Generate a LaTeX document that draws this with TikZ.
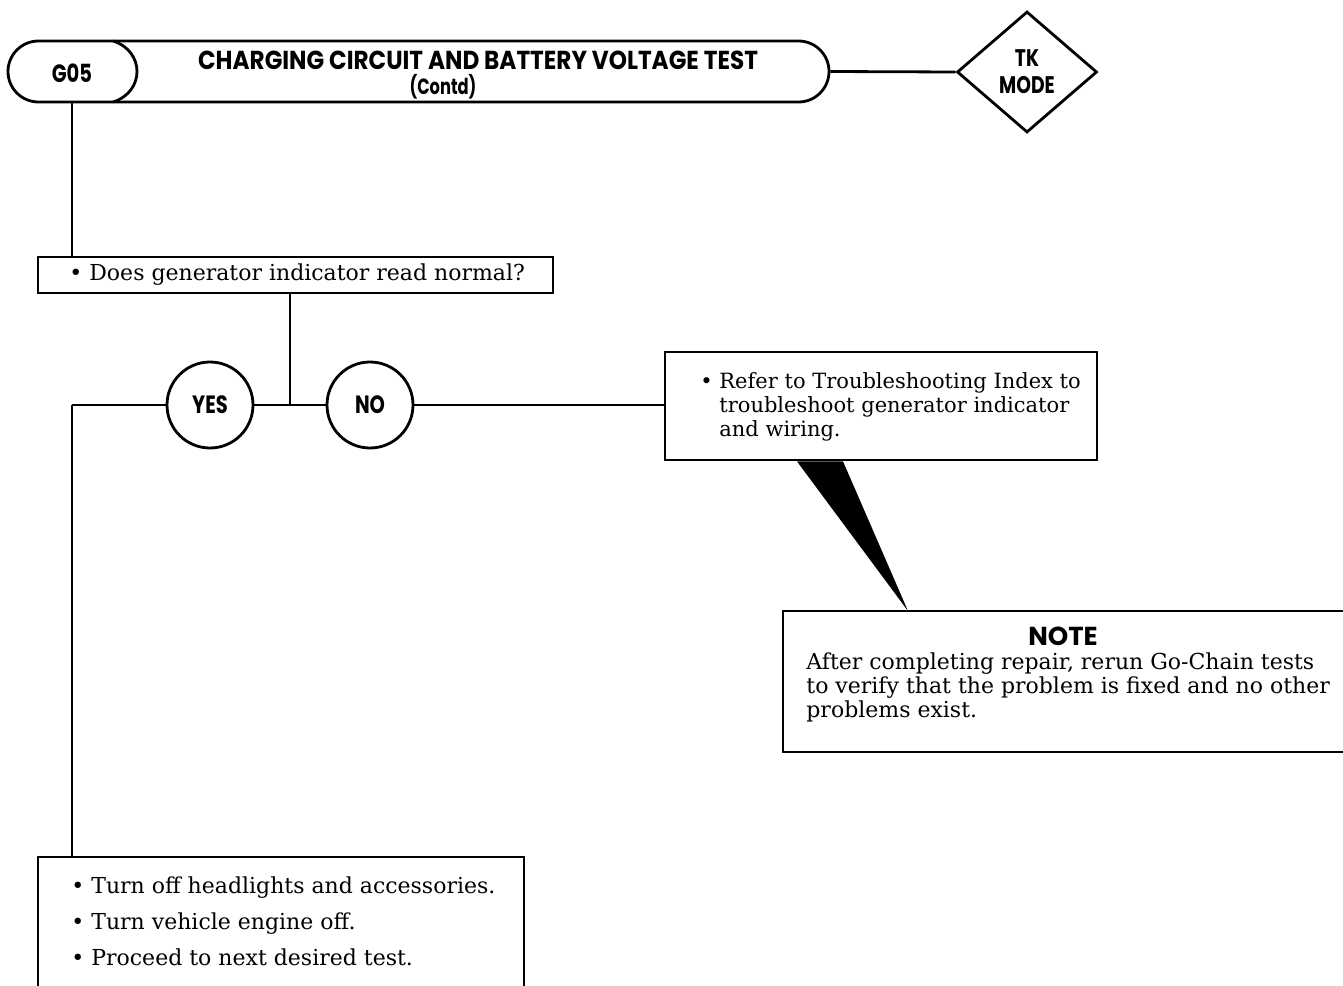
\documentclass[tikz,border=0pt]{standalone}
\usepackage{fontspec}
\usepackage{graphicx}
\setmainfont{DejaVu Serif}
\newfontfamily\headfont{Poppins}
\usetikzlibrary{shapes.geometric,shapes.misc,positioning}
\newcommand{\hd}[2][0.78]{\scalebox{#1}[1]{\headfont\bfseries #2}}

\begin{document}
\begin{tikzpicture}[x=1pt,y=-1pt,line width=2.8pt,
   box/.style={draw,rectangle,inner sep=0pt},
   txt/.style={anchor=north west,align=left,inner sep=0pt,font=\fontsize{22}{24}\selectfont},
   answer/.style={draw,circle,minimum size=86pt,inner sep=0pt,font=\fontsize{25}{25}\selectfont}]

   \useasboundingbox (0,0) rectangle (1343,985);

   % header
   \node[draw,rounded rectangle,minimum width=821pt,minimum height=61pt,inner sep=0pt] (title) at (418.5,71.5) {};
   \draw (113,41) .. controls (145,51) and (145,92) .. (113,102);
   \node[font=\fontsize{25}{25}\selectfont] (g05) at (72,73) {\hd{G05}};
   \node[font=\fontsize{26}{26}\selectfont] (ttl) at (478,60) {\hd[0.89]{CHARGING CIRCUIT AND BATTERY VOLTAGE TEST}};
   \node[font=\fontsize{22}{22}\selectfont] (contd) at (443,87) {\hd[0.74]{(Contd)}};
   \node[draw,diamond,minimum width=140pt,minimum height=121pt,inner sep=0pt,align=center,
         font=\fontsize{24}{27}\selectfont] (mode) at (1027,72) {\hd{TK}\\\hd{MODE}};
   \draw (title.east) -- (mode.west);

   % question
   \node[box,minimum width=515pt,minimum height=36pt] (q1) at (295.5,275) {};
   \node[txt,anchor=west] (q1txt) at (68,275) {\textbullet\ Does generator indicator read normal?};
   \draw (g05 |- title.south) -- (g05 |- q1.north);

   \coordinate (jn) at (290,405);
   \coordinate (turn) at (72,405);
   \node[answer] (yes) at (210,405) {\hd{YES}};
   \node[answer] (no) at (370,405) {\hd{NO}};

   % no branch
   \node[box,minimum width=432pt,minimum height=108pt] (fix) at (881,406) {};
   \node[txt,font=\fontsize{21}{24}\selectfont] (fixtxt) at (718,371) {\llap{\textbullet\ }Refer to Troubleshooting Index to\\troubleshoot generator indicator\\and wiring.};

   \node[box,minimum width=567pt,minimum height=141pt] (note) at (1066.5,681.5) {};
   \node[font=\fontsize{26}{26}\selectfont] (notehd) at (1063,636) {\headfont\bfseries NOTE};
   \node[txt] (notetxt) at (805,651) {After completing repair, rerun Go-Chain tests\\to verify that the problem is fixed and no other\\problems exist.};
   \coordinate (tip) at (908,611);
   \fill ([xshift=-84pt]fix.south) -- ([xshift=-38pt]fix.south) -- (tip) -- cycle;

   % yes branch
   \node[box,minimum width=486pt,minimum height=153pt] (done) at (281,933.5) {};
   \node[txt,font=\fontsize{22}{36}\selectfont] (donetxt) at (70,875) {\textbullet\ Turn off headlights and accessories.\\\textbullet\ Turn vehicle engine off.\\\textbullet\ Proceed to next desired test.};

   \draw (q1.south -| jn) -- (jn);
   \draw (turn) -- (yes);
   \draw (yes) -- (no);
   \draw (no) -- (no -| fix.west);
   \draw (turn) -- (turn |- done.north);

\end{tikzpicture}
\end{document}
